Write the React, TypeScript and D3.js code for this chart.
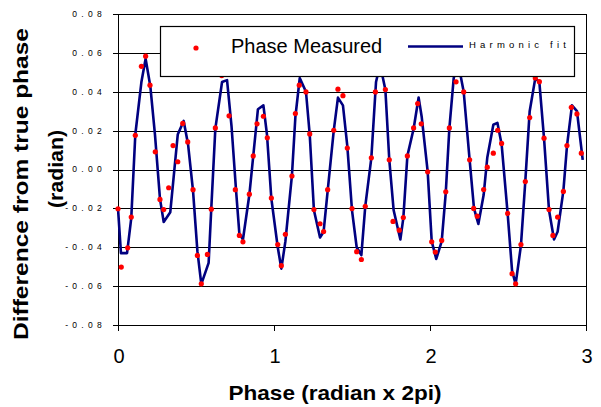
import * as d3 from 'd3'

const W = 601
const H = 407
const PLOT = { left: 118, right: 586, top: 14, bottom: 325 }

const X_TICKS = [0, 1, 2, 3]
const Y_TICKS = [-0.08, -0.06, -0.04, -0.02, 0, 0.02, 0.04, 0.06, 0.08]

// harmonic fit (phase, radian difference)
const FIT_X = [
  0.0, 0.019, 0.058, 0.085, 0.111, 0.15, 0.177, 0.207, 0.237, 0.269, 0.293, 0.335,
  0.383, 0.421, 0.449, 0.481, 0.509, 0.534, 0.581, 0.598, 0.624, 0.667, 0.699, 0.728,
  0.757, 0.778, 0.801, 0.842, 0.897, 0.932, 0.955, 0.983, 1.024, 1.047, 1.073, 1.115,
  1.137, 1.165, 1.205, 1.229, 1.256, 1.295, 1.318, 1.344, 1.383, 1.41, 1.442, 1.47,
  1.5, 1.53, 1.56, 1.585, 1.624, 1.654, 1.68, 1.714, 1.739, 1.767, 1.81, 1.829,
  1.855, 1.895, 1.927, 1.947, 1.985, 2.011, 2.04, 2.075, 2.101, 2.124, 2.152, 2.18,
  2.216, 2.254, 2.282, 2.31, 2.344, 2.367, 2.406, 2.432, 2.459, 2.498, 2.526, 2.549,
  2.583, 2.611, 2.639, 2.675, 2.701, 2.731, 2.763, 2.795, 2.818, 2.855, 2.878, 2.91,
  2.942, 2.979,
]
const FIT_Y = [
  -0.02, -0.043, -0.043, -0.025, 0.018, 0.045, 0.057, 0.043, 0.018, -0.015, -0.027, -0.022,
  0.018, 0.025, 0.013, -0.011, -0.042, -0.059, -0.048, -0.02, 0.021, 0.045, 0.046, 0.022,
  -0.011, -0.033, -0.036, -0.013, 0.031, 0.033, 0.018, -0.015, -0.04, -0.051, -0.037, -0.003,
  0.027, 0.047, 0.04, 0.018, -0.021, -0.035, -0.032, -0.011, 0.02, 0.037, 0.033, 0.012,
  -0.021, -0.04, -0.044, -0.019, 0.006, 0.045, 0.054, 0.041, 0.005, -0.021, -0.036, -0.025,
  0.007, 0.021, 0.037, 0.027, -0.001, -0.037, -0.046, -0.037, -0.012, 0.021, 0.047, 0.055,
  0.04, 0.005, -0.02, -0.028, -0.013, 0.006, 0.023, 0.024, 0.013, -0.023, -0.052, -0.059,
  -0.039, -0.006, 0.03, 0.047, 0.045, 0.016, -0.021, -0.036, -0.032, -0.011, 0.012, 0.033,
  0.03, 0.005,
]

// measured phase
const MEAS_X = [
  0.0, 0.021, 0.062, 0.085, 0.111, 0.15, 0.177, 0.205, 0.239, 0.269, 0.293, 0.325,
  0.353, 0.383, 0.415, 0.447, 0.481, 0.509, 0.534, 0.573, 0.598, 0.624, 0.665, 0.712,
  0.752, 0.778, 0.801, 0.842, 0.867, 0.891, 0.932, 0.957, 0.983, 1.024, 1.047, 1.073,
  1.115, 1.137, 1.162, 1.205, 1.229, 1.256, 1.295, 1.318, 1.344, 1.383, 1.41, 1.442,
  1.47, 1.5, 1.53, 1.56, 1.585, 1.624, 1.65, 1.714, 1.739, 1.763, 1.803, 1.829,
  1.855, 1.895, 1.921, 1.944, 1.985, 2.011, 2.034, 2.075, 2.101, 2.124, 2.167, 2.216,
  2.254, 2.28, 2.303, 2.344, 2.367, 2.406, 2.434, 2.459, 2.498, 2.526, 2.549, 2.583,
  2.611, 2.639, 2.675, 2.701, 2.731, 2.763, 2.788, 2.818, 2.855, 2.878, 2.906, 2.942,
  2.97,
]
const MEAS_Y = [
  -0.0202, -0.0502, -0.0403, -0.0245, 0.0176, 0.0531, 0.0583, 0.0434, 0.0091, -0.0154, -0.0206, -0.0094,
  0.0123, 0.004, 0.0237, 0.0142, -0.0104, -0.0442, -0.0588, -0.0437, -0.0204, 0.0214, 0.0483, 0.0276,
  -0.0104, -0.0339, -0.0372, -0.0127, 0.007, 0.0235, 0.0274, 0.0163, -0.0147, -0.0386, -0.0495, -0.0333,
  -0.0034, 0.0288, 0.0434, 0.0399, 0.0183, -0.0206, -0.0279, -0.0319, -0.0104, 0.0202, 0.0413, 0.038,
  0.011, -0.0201, -0.0423, -0.0463, -0.0189, 0.006, 0.0399, 0.0411, 0.005, -0.0267, -0.0312, -0.0247,
  0.007, 0.0214, 0.0339, 0.0235, -0.0012, -0.0372, -0.0425, -0.0365, -0.0115, 0.0214, 0.0451, 0.0399,
  0.005, -0.02, -0.024, -0.0103, 0.0012, 0.0084, 0.0202, 0.0134, -0.0226, -0.0536, -0.0588, -0.0386,
  -0.0062, 0.0267, 0.0471, 0.0452, 0.0161, -0.0206, -0.0339, -0.0245, -0.0113, 0.0123, 0.032, 0.0286,
  0.0084,
]

const FONT = "'Liberation Sans', Arial, sans-serif"

const fmtY = (v: number) => {
  const s = Math.abs(v).toFixed(2)
  return Math.abs(v) < 1e-9 ? s : (v < 0 ? '-' + s : s)
}

export default function App() {
  const x = d3.scaleLinear().domain([0, 3]).range([PLOT.left, PLOT.right])
  const y = d3.scaleLinear().domain([-0.08, 0.08]).range([PLOT.bottom, PLOT.top])

  const fit = FIT_X.map((v, i) => [v, FIT_Y[i]] as [number, number])
  const meas = MEAS_X.map((v, i) => [v, MEAS_Y[i]] as [number, number])
  const line = d3.line<[number, number]>().x(d => x(d[0])).y(d => y(d[1]))

  const crisp = (v: number) => Math.round(v) + 0.5

  return (
    <svg width={W} height={H} style={{ position: 'absolute', left: 0, top: 0, background: '#fff' }}
      fontFamily={FONT}>
      <rect x={0} y={0} width={W} height={H} fill="#fff" />

      {/* gridlines */}
      {Y_TICKS.filter(t => t > -0.079 && t < 0.079).map(t => (
        <line key={'g' + t} x1={PLOT.left} x2={PLOT.right} y1={crisp(y(t))} y2={crisp(y(t))}
          stroke="#000" strokeWidth={1} />
      ))}

      {/* plot frame */}
      <rect x={PLOT.left + 0.5} y={crisp(PLOT.top)} width={PLOT.right - PLOT.left}
        height={PLOT.bottom - PLOT.top} fill="none" stroke="#000" strokeWidth={1} />

      {/* y axis ticks + labels */}
      {Y_TICKS.map(t => (
        <g key={'y' + t}>
          <line x1={PLOT.left - 5} x2={PLOT.left} y1={crisp(y(t))} y2={crisp(y(t))} stroke="#000" />
          <text x={106} y={y(t)} dy="0.35em" textAnchor="end" fontSize={8.5}
            letterSpacing={4.3} fill="#000">{fmtY(t)}</text>
        </g>
      ))}

      {/* x axis ticks + labels */}
      {X_TICKS.map(t => (
        <g key={'x' + t}>
          <line x1={crisp(x(t))} x2={crisp(x(t))} y1={PLOT.bottom} y2={PLOT.bottom + 6} stroke="#000" />
          <text x={x(t) + 1} y={363} textAnchor="middle" fontSize={20} fill="#000">{t}</text>
        </g>
      ))}

      {/* fit line */}
      <path d={line(fit) ?? ''} fill="none" stroke="#000080" strokeWidth={2.6}
        strokeLinejoin="round" />

      {/* measured points */}
      {meas.map((d, i) => (
        <circle key={'m' + i} cx={x(d[0])} cy={y(d[1])} r={2.6} fill="#ff0000" />
      ))}

      {/* legend */}
      <rect x={160.5} y={26.5} width={414} height={50} fill="#fff" stroke="#000" strokeWidth={1.2} />
      <circle cx={196} cy={48} r={2.6} fill="#ff0000" />
      <text x={231} y={53.3} fontSize={20} fill="#000">Phase Measured</text>
      <line x1={408} x2={463} y1={46.5} y2={46.5} stroke="#000080" strokeWidth={2.6} />
      <text x={469} y={47.7} fontSize={9.5} letterSpacing={4.2} fill="#000">Harmonic fit</text>

      {/* axis titles */}
      <text x={335} y={400} textAnchor="middle" fontSize={21} fontWeight="bold"
        textLength={213} lengthAdjust="spacingAndGlyphs" fill="#000">Phase (radian x 2pi)</text>
      <text transform="translate(28,184) rotate(-90)" textAnchor="middle" fontSize={20}
        fontWeight="bold" textLength={312} lengthAdjust="spacingAndGlyphs" fill="#000">
        Difference from true phase
      </text>
      <text transform="translate(63,169) rotate(-90)" textAnchor="middle" fontSize={20}
        fontWeight="bold" textLength={78} lengthAdjust="spacingAndGlyphs" fill="#000">
        (radian)
      </text>
    </svg>
  )
}
